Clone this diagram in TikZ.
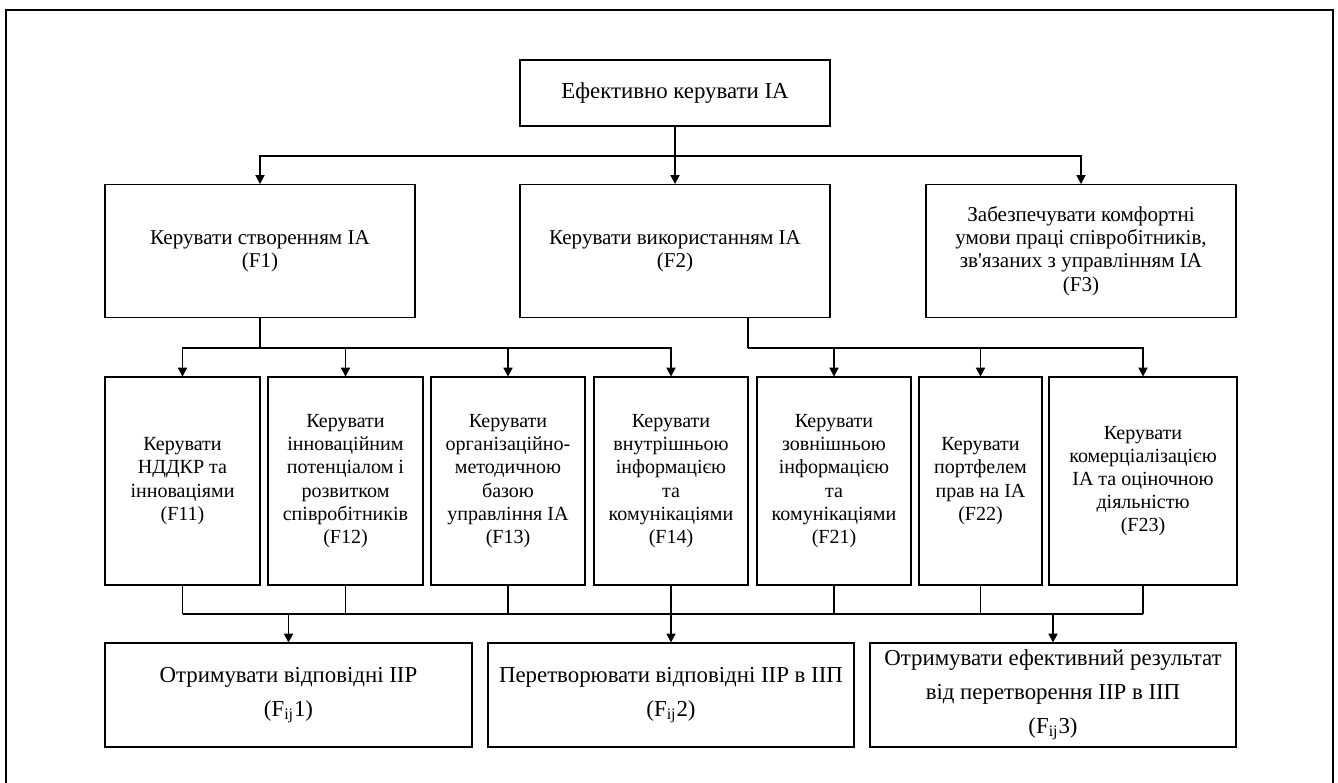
\documentclass[tikz,border=0pt]{standalone}
\usepackage{fontspec}
\setmainfont{Liberation Serif}
\usetikzlibrary{arrows.meta}

\begin{document}
\begin{tikzpicture}[x=0.02cm, y=-0.02cm,
  box/.style={draw, line width=0.6pt, align=center, inner sep=0pt,
    font=\fontsize{11.4pt}{13.2pt}\selectfont},
  midbox/.style={box, font=\fontsize{12pt}{13.2pt}\selectfont},
  widebox/.style={box, font=\fontsize{13pt}{19.2pt}\selectfont},
  arr/.style={line width=0.6pt, -{Triangle[length=5pt,width=5.2pt]}},
  link/.style={line width=0.6pt}]
\newcommand\px{0.02cm}
\clip (0,0) rectangle (1338,783);
\draw [line width=1.5pt] (6,800) -- (6,10) -- (1333,10) -- (1333,800);

% top level
\node (ea) at (675,93) [widebox, minimum width=310*\px, minimum height=66*\px] {Ефективно керувати ІА};

\node (f1) at (260,251) [midbox, minimum width=310*\px, minimum height=133*\px] {Керувати створенням ІА\\(F1)};
\node (f2) at (675,251) [midbox, minimum width=310*\px, minimum height=133*\px] {Керувати використанням ІА\\(F2)};
\node (f3) at (1081,251) [midbox, minimum width=310*\px, minimum height=133*\px] {Забезпечувати комфортні\\умови праці співробітників,\\зв\textquotesingle язаних з управлінням ІА\\(F3)};

% second level
\node (f11) at (182.5,481) [box, minimum width=155*\px, minimum height=208*\px] {Керувати\\НДДКР та\\інноваціями\\(F11)};
\node (f12) at (345.5,481) [box, minimum width=155*\px, minimum height=208*\px] {Керувати\\інноваційним\\потенціалом і\\розвитком\\співробітників\\(F12)};
\node (f13) at (508,481) [box, minimum width=154*\px, minimum height=208*\px] {Керувати\\організаційно-\\методичною\\базою\\управління ІА\\(F13)};
\node (f14) at (671,481) [box, minimum width=154*\px, minimum height=208*\px] {Керувати\\внутрішньою\\інформацією\\та\\комунікаціями\\(F14)};
\node (f21) at (834,481) [box, minimum width=154*\px, minimum height=208*\px] {Керувати\\зовнішньою\\інформацією\\та\\комунікаціями\\(F21)};
\node (f22) at (980.5,481) [box, minimum width=123*\px, minimum height=208*\px] {Керувати\\портфелем\\прав на ІА\\(F22)};
\node (f23) at (1143,481) [box, minimum width=188*\px, minimum height=208*\px] {Керувати\\комерціалізацією\\ІА та оціночною\\діяльністю\\(F23)};

% results
\node (r1) at (288.5,695) [widebox, minimum width=367*\px, minimum height=104*\px] {Отримувати відповідні ІІР\\(F\textsubscript{ij}1)};
\node (r2) at (671,695) [widebox, minimum width=366*\px, minimum height=104*\px] {Перетворювати відповідні ІІР в ІІП\\(F\textsubscript{ij}2)};
\node (r3) at (1053,695) [widebox, minimum width=366*\px, minimum height=104*\px] {Отримувати ефективний результат\\від перетворення ІІР в ІІП\\(F\textsubscript{ij}3)};

\coordinate (bus0) at (0,156);
\coordinate (bus1) at (0,348);
\coordinate (bus2) at (0,614);
\coordinate (f2out) at ([xshift=73*\px]f2.south);

% connectors
\draw [arr] (ea) -- (f2);
\draw [arr] (ea |- bus0) -| (f1);
\draw [arr] (ea |- bus0) -| (f3);

\draw [link] (f1) -- (f1 |- bus1);
\foreach \n in {f11,f12,f13,f14} {
    \draw [arr] (f1 |- bus1) -| (\n);
}
\draw [link] (f2out) -- (f2out |- bus1);
\foreach \n in {f21,f22,f23} {
    \draw [arr] (f2out |- bus1) -| (\n);
}

\foreach \n in {f11,f12,f13,f14,f21,f22,f23} {
    \draw [link] (\n) -- (\n |- bus2);
}
\draw [link] (f11 |- bus2) -- (f23 |- bus2);
\foreach \n in {r1,r2,r3} {
    \draw [arr] (\n |- bus2) -- (\n);
}
\end{tikzpicture}
\end{document}
